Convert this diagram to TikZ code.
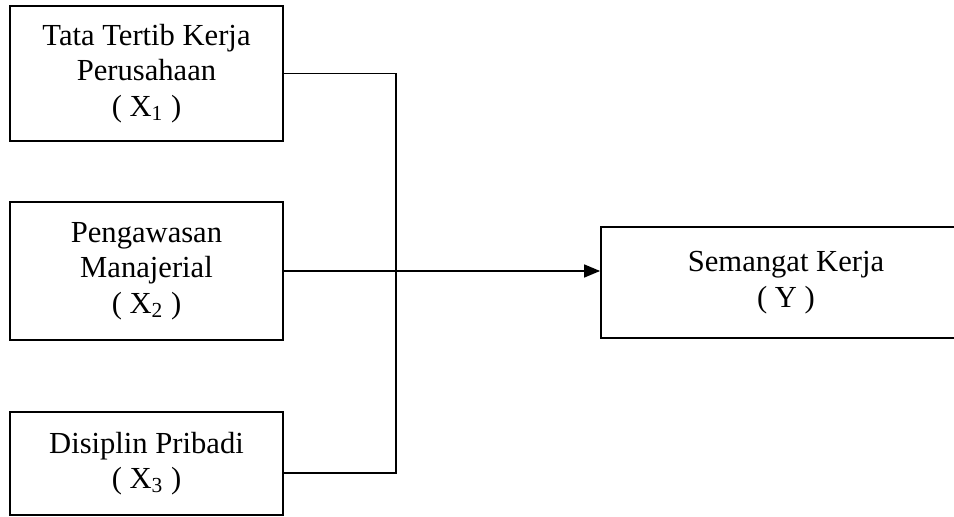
\documentclass[tikz,border=0pt]{standalone}
\usepackage{fontspec}
\setmainfont{Liberation Serif}
\usetikzlibrary{arrows.meta}
\begin{document}
\begin{tikzpicture}[x=0.5pt,y=-0.5pt,
  varbox/.style={draw, line width=0.9pt, inner sep=0pt, align=center,
    font=\fontsize{15.3}{17.8}\selectfont, minimum width=136.5pt},
  link/.style={line width=0.75pt},
  arr/.style={link, -{Triangle[length=8pt,width=6.5pt]}}]
\useasboundingbox (0,0) rectangle (954,517);
\clip (0,0) rectangle (954,517);
\node[varbox, minimum height=67.5pt] (b1) at (146.5,73.5)
  {Tata Tertib Kerja\\Perusahaan\\( X\textsubscript{1} )};
\node[varbox, minimum height=69pt] (b2) at (146.5,271)
  {Pengawasan\\Manajerial\\( X\textsubscript{2} )};
\node[varbox, minimum height=51.5pt] (b3) at (146.5,463.5)
  {Disiplin Pribadi\\( X\textsubscript{3} )};
\node[varbox, minimum width=185pt, minimum height=55.5pt] (y) at (786,282.5)
  {Semangat Kerja\\( Y )};
\coordinate (j) at (396,271);
\coordinate (c3) at (b3.east |- 0,473);
\draw[link] (b1.east) -| (j);
\draw[link] (c3) -| (j);
\draw[arr] (b2.east) -- (y.west |- b2.east);
\end{tikzpicture}
\end{document}
